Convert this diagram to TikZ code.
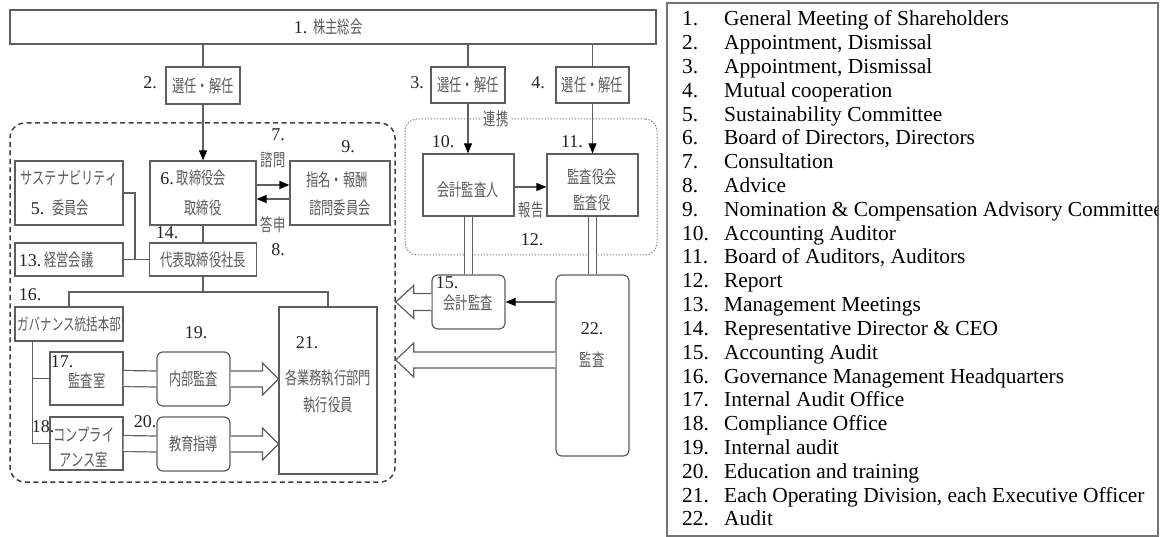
\documentclass[tikz,border=0pt]{standalone}
\usepackage{fontspec}
\setmainfont{Liberation Serif}
\newfontfamily\cj[FakeStretch=0.7]{Noto Sans CJK JP}
\newfontfamily\sr{Liberation Serif}
\usetikzlibrary{arrows.meta,calc}
\definecolor{lg}{HTML}{5E5E5E}
\definecolor{tg}{HTML}{5A5A5A}
\definecolor{ng}{HTML}{222222}
\newcommand\nm[1]{{\sr\color{ng}\fontsize{18}{18}\selectfont #1}}
\tikzset{
 box/.style={draw=lg, line width=1.2pt, inner sep=0pt, font=\cj\fontsize{17.5}{20}\selectfont, text=tg, align=center},
 rbox/.style={box, rounded corners=6pt},
 num/.style={font=\sr\fontsize{18}{18}\selectfont, text=ng, inner sep=0pt},
 jt/.style={font=\cj\fontsize{17.5}{20}\selectfont, text=tg, inner sep=0pt},
 ln/.style={draw=lg, line width=1.2pt},
 arr/.style={ln, -{Triangle[length=10pt,width=8pt,color=black]}},
 dbl/.style={draw=lg, line width=1.2pt, double=white, double distance=14.8pt},
 hol/.style={draw=lg, line width=1.2pt, fill=white, line join=miter},
 lgd/.style={font=\sr\fontsize{21.4}{21.4}\selectfont, inner sep=0pt, anchor=base west, text=black},
}
\begin{document}
\begin{tikzpicture}[x=1pt,y=-1pt]
\useasboundingbox (0,0) rectangle (1169,537);
% containers
\node[draw=black!75, line width=1.5pt, dash pattern=on 5pt off 3.5pt, rounded corners=15pt, minimum width=385pt, minimum height=359pt, inner sep=0pt] (gov) at (202.5,302.5) {};
\node[draw=black!45, line width=1pt, dash pattern=on 1.5pt off 1.5pt, rounded corners=12pt, minimum width=252pt, minimum height=136pt, inner sep=0pt] (coop) at (531,187) {};
\node[jt, fill=white, inner sep=2pt] (tcoop) at (496,119) {連携};
% boxes
\node[box, minimum width=646pt, minimum height=34pt] (n1) at (333,27) {};
\node[jt] (t1) at (328,27) {\nm{1.}\hspace{6pt}株主総会};
\node[box, minimum width=74pt, minimum height=37pt] (n2) at (203,85.5) {選任・解任};
\node[box, minimum width=74pt, minimum height=36pt] (n3) at (468,85) {選任・解任};
\node[box, minimum width=73pt, minimum height=36pt] (n4) at (592.5,85) {選任・解任};
\node[box, minimum width=108pt, minimum height=64pt] (n5) at (69,193) {};
\node[jt] (t5a) at (69,178) {サステナビリティ};
\node[jt] (t5b) at (60,208) {\nm{5.}\hspace{8pt}委員会};
\node[box, minimum width=106pt, minimum height=64pt] (n6) at (203,193) {};
\node[jt] (t6a) at (193,178) {\nm{6.}\hspace{3pt}取締役会};
\node[jt] (t6b) at (203,208) {取締役};
\node[box, minimum width=100pt, minimum height=64pt] (n9) at (340,193) {};
\node[jt] (t9a) at (337,180) {指名・報酬};
\node[jt] (t9b) at (340,208) {諮問委員会};
\node[box, minimum width=108pt, minimum height=33pt] (n13) at (69,259.5) {};
\node[jt] (t13) at (56,260) {\nm{13.}\hspace{3pt}経営会議};
\node[box, minimum width=107pt, minimum height=33pt] (n14) at (203,259.5) {代表取締役社長};
\node[box, minimum width=108pt, minimum height=34pt, font=\cj\fontsize{16.5}{19}\selectfont] (n16) at (69,324) {ガバナンス統括本部};
\node[box, minimum width=73pt, minimum height=53pt] (n17) at (86.5,378.5) {};
\node[jt] (t17) at (87,381) {監査室};
\node[box, minimum width=73pt, minimum height=53pt] (n18) at (86.5,443.5) {};
\node[jt] (t18a) at (84,435) {コンプライ};
\node[jt] (t18b) at (84,460) {アンス室};
\node[rbox, minimum width=73pt, minimum height=54pt] (n19) at (193.5,379) {内部監査};
\node[rbox, minimum width=73pt, minimum height=54pt] (n20) at (193.5,444) {教育指導};
\node[box, minimum width=98pt, minimum height=167pt] (n21) at (328,390.5) {};
\node[jt] (t21a) at (328,378) {各業務執行部門};
\node[jt] (t21b) at (328,405) {執行役員};
\node[box, minimum width=91pt, minimum height=62pt] (n10) at (468.5,185) {};
\node[jt] (t10) at (468,190) {会計監査人};
\node[box, minimum width=91pt, minimum height=62pt] (n11) at (592.5,185) {};
\node[jt] (t11a) at (592,177) {監査役会};
\node[jt] (t11b) at (592,203) {監査役};
\node[rbox, minimum width=73pt, minimum height=54pt] (n15) at (468.5,302) {};
\node[jt] (t15) at (468,303) {会計監査};
\node[rbox, minimum width=73pt, minimum height=181pt] (n22) at (592.5,365.5) {};
\node[jt] (t22) at (592,360) {監査};
% number labels
\node[num] (l2) at (150,83) {2.};
\node[num] (l3) at (417,83) {3.};
\node[num] (l4) at (538,83) {4.};
\node[num] (l7) at (278,135) {7.};
\node[num] (l8) at (278,250) {8.};
\node[num] (l9) at (348,147) {9.};
\node[num] (l10) at (443,142) {10.};
\node[num] (l11) at (572,142) {11.};
\node[num] (l12) at (532,240) {12.};
\node[num] (l14) at (167,233) {14.};
\node[num] (l16) at (30,295) {16.};
\node[num] (l17) at (62,362) {17.};
\node[num] (l18) at (43,427) {18.};
\node[num] (l19) at (196,333) {19.};
\node[num] (l20) at (145,422) {20.};
\node[num] (l21) at (307,343) {21.};
\node[num] (l15) at (447,283) {15.};
\node[num] (l22) at (592,329) {22.};
\node[jt] (q7) at (273,160) {諮問};
\node[jt] (q8) at (273,225) {答申};
\node[jt] (q12) at (531,210) {報告};
% connectors
\draw[ln] (n1.south -| n2.north) -- (n2.north);
\draw[arr] (n2.south) -- (n6.north);
\draw[ln] (n1.south -| n3.north) -- (n3.north);
\draw[arr] (n3.south) -- (n3.south |- n10.north);
\draw[ln] (n1.south -| n4.north) -- (n4.north);
\draw[arr] (n4.south) -- (n4.south |- n11.north);
\draw[arr] ($(n6.east)+(0,-8)$) -- ($(n9.west)+(0,-8)$);
\draw[arr] ($(n9.west)+(0,6)$) -- ($(n6.east)+(0,6)$);
\draw[ln] (n6.south) -- (n14.north);
\draw[ln] (n13.east) -- (n14.west);
\coordinate (j5) at (135,259.5);
\draw[ln] (n5.east) -| (j5);
\coordinate (bus) at (203,292);
\draw[ln] (n14.south) -- (bus);
\draw[ln] (n16.north) |- (bus) -| (n21.north);
\coordinate (v16) at ($(n16.south west)+(18,0)$);
\draw[ln] (v16) |- (n18.west);
\draw[ln] (v16 |- n17.west) -- (n17.west);
\draw[dbl] (n17.east) -- (n19.west);
\draw[dbl] (n18.east) -- (n20.west);
\draw[hol] ($(n19.east)+(0,-8)$) -- ($(n21.west |- n19.east)+(-16,-8)$) -- ++(0,-8) -- (n21.west |- n19.east) -- ++(-16,16) -- ++(0,-8) -- ($(n19.east)+(0,8)$);
\draw[hol] ($(n20.east)+(0,-8)$) -- ($(n21.west |- n20.east)+(-16,-8)$) -- ++(0,-8) -- (n21.west |- n20.east) -- ++(-16,16) -- ++(0,-8) -- ($(n20.east)+(0,8)$);
\draw[arr] ($(n10.east)+(0,2)$) -- ($(n11.west)+(0,2)$);
\draw[dbl, double distance=7pt] (n10.south -| n15.north) -- (n15.north);
\draw[dbl, double distance=7.5pt] (n11.south) -- (n11.south |- n22.north);
\draw[arr] (n22.west |- n15.east) -- (n15.east);
\draw[hol] ($(n15.west)+(0,-8.5)$) -- ($(gov.east |- n15.west)+(18,-8.5)$) -- ++(0,-8) -- (gov.east |- n15.west) -- ++(18,16.5) -- ++(0,-8) -- ($(n15.west)+(0,8.5)$);
\coordinate (a22) at ($(n22.west)+(0,-5.5)$);
\draw[hol] ($(a22)+(0,-8)$) -- ($(gov.east |- a22)+(18,-8)$) -- ++(0,-9) -- (gov.east |- a22) -- ++(18,17) -- ++(0,-9) -- ($(a22)+(0,8)$);
% legend
\node[draw=black!55, line width=1.5pt, minimum width=491pt, minimum height=533pt, inner sep=0pt] (leg) at (912.5,269.5) {};
\begin{scope}
\clip (leg.south west) rectangle ($(leg.north east)+(-1.5,0)$);
\foreach \t [count=\i] in {{General Meeting of Shareholders},{Appointment, Dismissal},{Appointment, Dismissal},{Mutual cooperation},{Sustainability Committee},{Board of Directors, Directors},{Consultation},{Advice},{Nomination \& Compensation Advisory Committee},{Accounting Auditor},{Board of Auditors, Auditors},{Report},{Management Meetings},{Representative Director \& CEO},{Accounting Audit},{Governance Management Headquarters},{Internal Audit Office},{Compliance Office},{Internal audit},{Education and training},{Each Operating Division, each Executive Officer},{Audit}}{
  \node[lgd] (ln\i) at (682,{26+(\i-1)*23.8}) {\i.};
  \node[lgd] (lt\i) at (724,{26+(\i-1)*23.8}) {\t};
}
\end{scope}
\end{tikzpicture}
\end{document}
